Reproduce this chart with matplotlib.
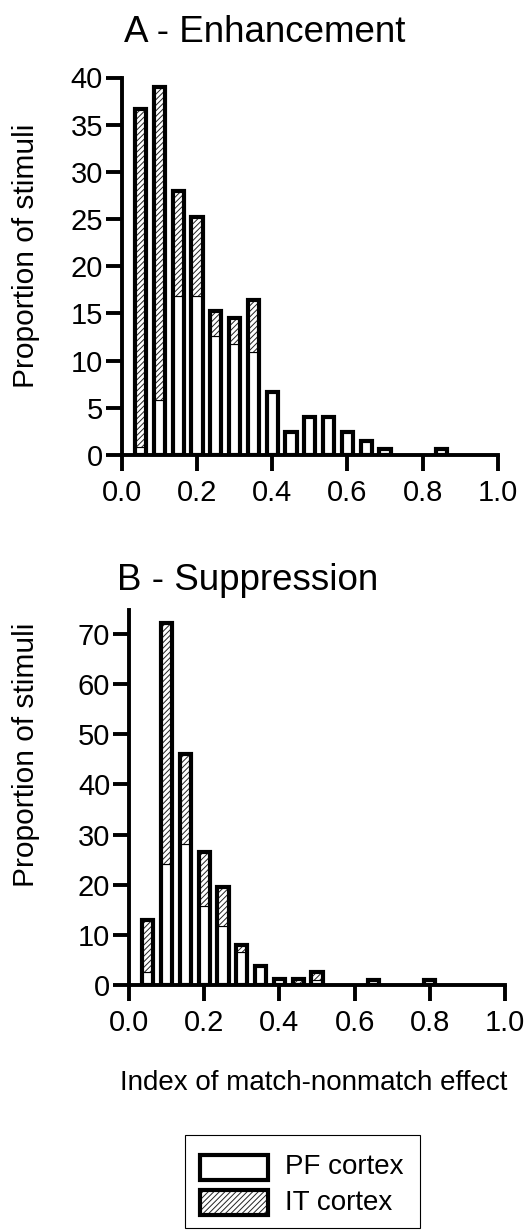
import matplotlib
matplotlib.use('Agg')
import matplotlib.pyplot as plt
from matplotlib.patches import Rectangle

plt.rcParams['font.family'] = ['Liberation Sans', 'DejaVu Sans']
plt.rcParams['hatch.linewidth'] = 0.7

# bin centres and values (proportion of stimuli, %)
bins_a = [0.05, 0.10, 0.15, 0.20, 0.25, 0.30, 0.35, 0.40, 0.45,
          0.50, 0.55, 0.60, 0.65, 0.70, 0.75, 0.80, 0.85]
pf_a = [0.8, 5.8, 16.8, 16.8, 12.6, 11.8, 10.9, 6.7, 2.4,
        4.0, 4.0, 2.4, 1.5, 0.6, 0, 0, 0.6]
it_a = [35.9, 33.2, 11.2, 8.4, 2.7, 2.7, 5.5, 0, 0,
        0, 0, 0, 0, 0, 0, 0, 0]

bins_b = [0.05, 0.10, 0.15, 0.20, 0.25, 0.30, 0.35, 0.40,
          0.45, 0.50, 0.55, 0.60, 0.65, 0.70, 0.75, 0.80]
pf_b = [2.5, 24.1, 28.1, 15.8, 11.8, 6.5, 3.7, 1.1,
        0.3, 1.0, 0, 0, 0.9, 0, 0, 0.9]
it_b = [10.4, 48.1, 18.0, 10.7, 7.7, 1.4, 0, 0,
        0.8, 1.6, 0, 0, 0, 0, 0, 0]

xticks = [0.0, 0.2, 0.4, 0.6, 0.8, 1.0]
xticklabels = ['0.0', '0.2', '0.4', '0.6', '0.8', '1.0']

W, H = 531, 1230
fig = plt.figure(figsize=(W / 100, H / 100), dpi=100)


def fx(x):
    return x / W


def fy(y):
    return 1 - y / H


def draw_panel(ax, bins, pf, it, ymax, yticks):
    bw = 0.03
    for x, p, i in zip(bins, pf, it):
        tot = p + i
        if tot <= 0:
            continue
        if p > 0:
            ax.bar(x, p, bw, color='white', edgecolor='black', linewidth=0.8, zorder=2)
        if i > 0:
            ax.bar(x, i, bw, bottom=p, color='white', edgecolor='#222222',
                   hatch='//////', linewidth=0, zorder=2)
            if p > 0:
                ax.plot([x - bw / 2, x + bw / 2], [p, p], color='black', lw=0.8, zorder=3)
        ax.bar(x, tot, bw, fill=False, edgecolor='black', linewidth=3, zorder=4)
    ax.set_xlim(0, 1.0)
    ax.set_ylim(0, ymax)
    ax.spines['top'].set_visible(False)
    ax.spines['right'].set_visible(False)
    for s in ['left', 'bottom']:
        ax.spines[s].set_linewidth(2.8)
    ax.set_xticks(xticks)
    ax.set_xticklabels(xticklabels)
    ax.set_yticks(yticks)
    ax.tick_params(axis='both', direction='out', length=11.5, width=2.8, labelsize=21)
    ax.tick_params(axis='y', pad=2)
    ax.tick_params(axis='x', pad=6)
    for sp in ax.spines.values():
        sp.set_zorder(5)


axA = fig.add_axes([fx(121.7), fy(455), 376.3 / W, 377.5 / H])
draw_panel(axA, bins_a, pf_a, it_a, 40, list(range(0, 41, 5)))

axB = fig.add_axes([fx(129), fy(985), 376 / W, 375 / H])
draw_panel(axB, bins_b, pf_b, it_b, 74.8, list(range(0, 71, 10)))

fig.text(fx(265), fy(42), 'A - Enhancement', fontsize=26.5, ha='center', va='baseline')
fig.text(fx(248), fy(590), 'B - Suppression', fontsize=26.5, ha='center', va='baseline')
fig.text(fx(26), fy(256), 'Proportion of stimuli', fontsize=21.5, rotation=90,
         ha='center', va='center')
fig.text(fx(26), fy(755), 'Proportion of stimuli', fontsize=21.5, rotation=90,
         ha='center', va='center')
fig.text(fx(314), fy(1090), 'Index of match-nonmatch effect', fontsize=20,
         ha='center', va='baseline')

# legend drawn in pixel coordinates
lg = fig.add_axes([0, 0, 1, 1], zorder=-1)
lg.set_xlim(0, W)
lg.set_ylim(H, 0)
lg.axis('off')
lg.add_patch(Rectangle((185, 1135), 235, 93, fill=False, edgecolor='black', lw=0.8))
lg.add_patch(Rectangle((200, 1155), 68, 25, facecolor='white', edgecolor='black', lw=3))
lg.add_patch(Rectangle((200, 1190), 68, 25, facecolor='white', edgecolor='#222222',
                       hatch='//////', lw=0))
lg.add_patch(Rectangle((200, 1190), 68, 25, fill=False, edgecolor='black', lw=3))
lg.text(285, 1167.5, 'PF cortex', fontsize=20, va='center', ha='left')
lg.text(285, 1202.5, 'IT cortex', fontsize=20, va='center', ha='left')

fig.savefig('out.png', dpi=100)
